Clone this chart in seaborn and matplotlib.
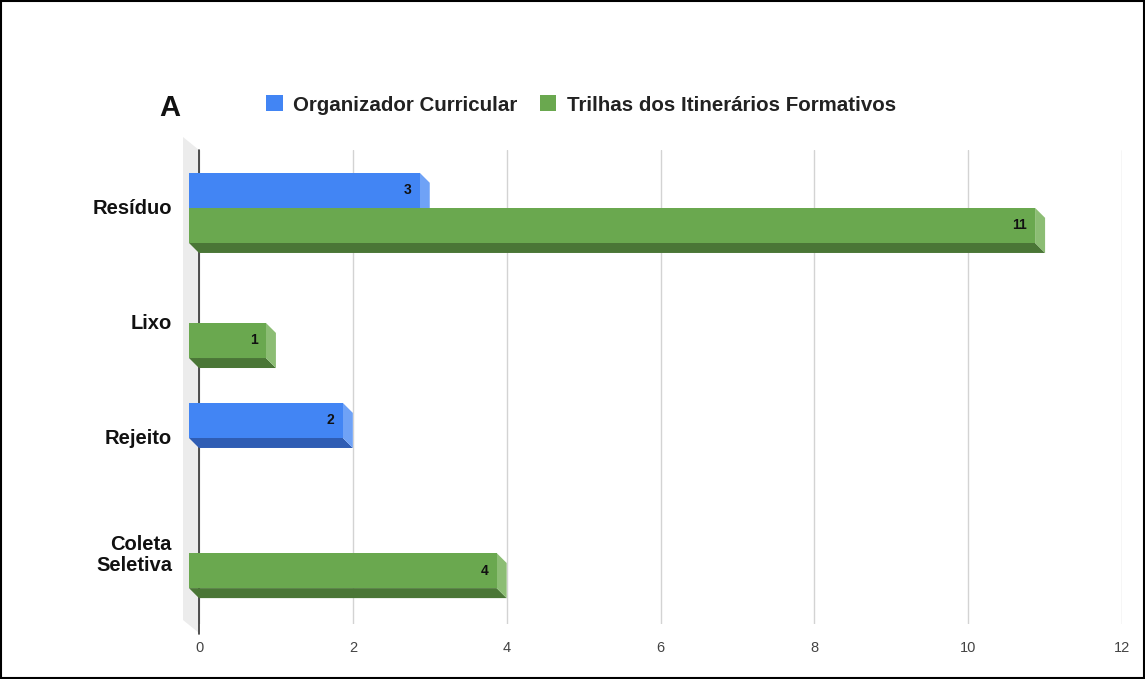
import numpy as np
import pandas as pd
import matplotlib
matplotlib.use("Agg")
import matplotlib.pyplot as plt
from matplotlib.patches import Polygon, Rectangle
from matplotlib.transforms import ScaledTranslation
import seaborn as sns

categories = ["Resíduo", "Lixo", "Rejeito", "Coleta\nSeletiva"]
series = ["Organizador Curricular", "Trilhas dos Itinerários Formativos"]
organizador = [3, 0, 2, 0]
trilhas = [11, 1, 0, 4]
x_ticks = [0, 2, 4, 6, 8, 10, 12]

front_colors = ["#4285f4", "#6aa84f"]
side_colors = ["#6fa2f6", "#8cbd74"]
bottom_colors = ["#2f5db4", "#4a7636"]

df = pd.DataFrame({
    "categoria": categories * 2,
    "serie": [series[0]] * 4 + [series[1]] * 4,
    "valor": organizador + trilhas,
})

sns.set_style("white")
plt.rcParams["font.family"] = ["Liberation Sans", "DejaVu Sans"]

W, H = 1145, 679
fig = plt.figure(figsize=(W / 100, H / 100), dpi=100)
# axes in pixel terms: x 0 -> 199px, 12 -> 1122px; top 150px, bottom 624px
ax = fig.add_axes([199 / W, 1 - 624 / H, 923 / W, 474 / H])

sns.barplot(data=df, x="valor", y="categoria", hue="serie", order=categories,
            hue_order=series, palette=front_colors, orient="h", width=0.61,
            linewidth=0, saturation=1, ax=ax, zorder=3)

ax.set_xlim(0, 12)
ax.set_ylim(3.53, -0.59)
ax.set_xticks(x_ticks)
ax.set_xlabel("")
ax.set_ylabel("")
for s in ax.spines.values():
    s.set_visible(False)
ax.grid(axis="x", color="#d3d3d3", linewidth=1, zorder=0.5)
ax.grid(axis="y", visible=False)
ax.tick_params(axis="x", length=0, pad=12.5, labelsize=10.5, labelcolor="#444444")
ax.tick_params(axis="y", length=0, pad=19.5, labelsize=14.5)
for lab in ax.get_yticklabels():
    lab.set_fontweight("bold")
    lab.set_color("#111111")
    lab.set_linespacing(1.12)
    lab.set_transform(lab.get_transform() + ScaledTranslation(0, 0.11, fig.dpi_scale_trans))

# zero line, slightly longer than the grid
ax.axvline(0, ymin=-10 / 474, ymax=1, color="#333333", linewidth=1.2, zorder=2.5, clip_on=False)

# light gray side wall of the 3d look (behind the bars)
x0p, ytp, ybp = 199, 150, 624
wall = [(x0p, H - ytp), (x0p - 16, H - (ytp - 13)), (x0p - 16, H - (ybp - 4)), (x0p, H - (ybp + 9))]
wall = [(px / W, py / H) for px, py in wall]
ax.add_patch(Polygon(wall, closed=True, transform=fig.transFigure,
                     facecolor="#ececec", edgecolor="none", zorder=1, clip_on=False))

# depth of the 3d bars: 10px left/up, converted to data units
fig.canvas.draw()
inv = ax.transData.inverted()
p0 = inv.transform(ax.transData.transform((0, 0)))
p1 = inv.transform(ax.transData.transform((0, 0)) + np.array([10, -10]))
dx, dy = p1[0] - p0[0], p1[1] - p0[1]

for i, cont in enumerate(ax.containers):
    for rect in cont.patches:
        x0, y0 = rect.get_x(), rect.get_y()
        w, h = rect.get_width(), rect.get_height()
        if w <= 0:
            rect.set_visible(False)
            continue
        rect.set_x(x0 - dx)
        rect.set_y(y0 - dy)
        rect.set_clip_on(False)
        side = Polygon([(x0 + w - dx, y0 - dy), (x0 + w, y0), (x0 + w, y0 + h),
                        (x0 + w - dx, y0 + h - dy)], closed=True,
                       facecolor=side_colors[i], edgecolor="none", zorder=2.8, clip_on=False)
        bottom = Polygon([(x0 - dx, y0 + h - dy), (x0 + w - dx, y0 + h - dy),
                          (x0 + w, y0 + h), (x0, y0 + h)], closed=True,
                         facecolor=bottom_colors[i], edgecolor="none", zorder=2.7, clip_on=False)
        ax.add_patch(side)
        ax.add_patch(bottom)
        ax.annotate(f"{w:g}", xy=(x0 + w - dx, y0 - dy + h / 2), xytext=(-6, 0),
                    textcoords="offset points", ha="right", va="center",
                    fontsize=10, fontweight="bold", color="#111111", zorder=4)

sns.move_legend(ax, "center", bbox_to_anchor=((581 - 199) / 923, (624 - 105) / 474),
                ncol=2, frameon=False, title=None, handlelength=0.8, handleheight=0.8,
                handletextpad=0.5, columnspacing=1.1,
                prop={"weight": "bold", "size": 14.8})
for t in ax.get_legend().get_texts():
    t.set_color("#222222")

fig.text(159 / W, 1 - 108 / H, "A", fontsize=21, fontweight="bold", ha="left", va="center",
         color="#111111")

fig.patches.append(Rectangle((0.0008, 0.0012), 0.9984, 0.9976, transform=fig.transFigure,
                             fill=False, edgecolor="black", linewidth=1.5, zorder=10))

fig.savefig("out.png", dpi=100, facecolor="white")
